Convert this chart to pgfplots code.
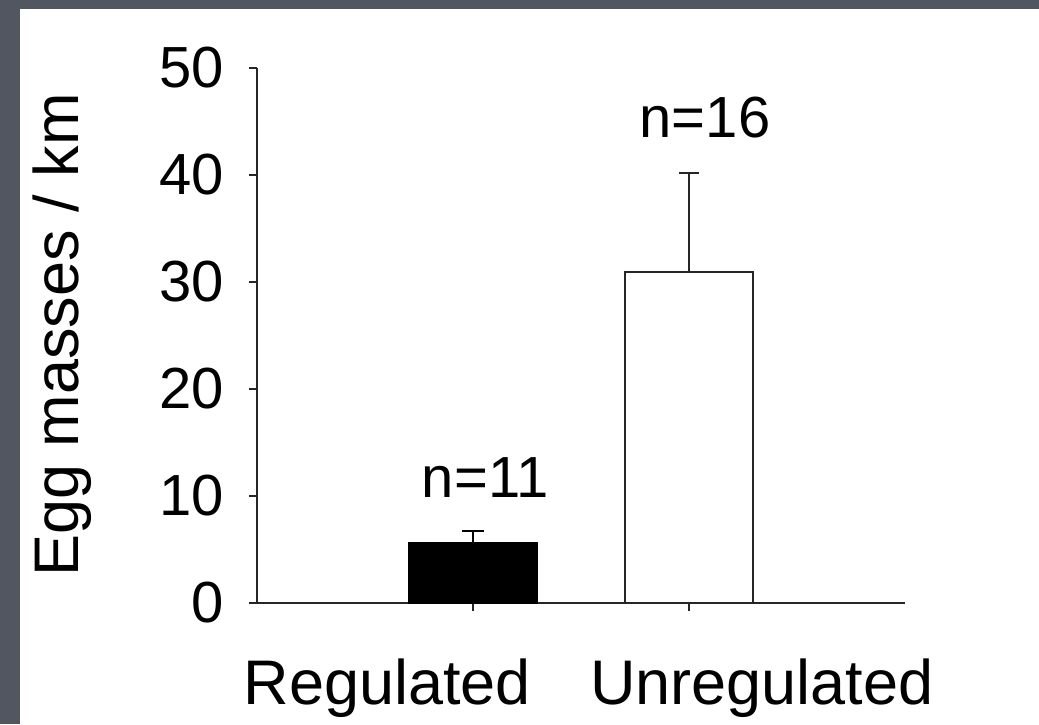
\documentclass[border=0pt]{standalone}
\usepackage{pgfplots}
\pgfplotsset{compat=1.18}
\usepackage{fontspec}
\setmainfont{Liberation Sans}
\definecolor{bordergray}{RGB}{82,86,97}
\begin{document}
\begin{tikzpicture}
\path[use as bounding box] (0,0) rectangle (519.5pt,362pt);
\fill[bordergray] (0,0) rectangle (519.5pt,362pt);
\fill[white] (10pt,0) rectangle (519.5pt,357.5pt);
\begin{axis}[
  at={(128.5pt,60.5pt)}, anchor=south west,
  scale only axis, width=324pt, height=267.5pt,
  xmin=0, xmax=3, ymin=0, ymax=50,
  axis x line=bottom, axis y line=left,
  axis line style={-, line width=1pt, black!85},
  xtick={1,2}, xticklabels={},
  ytick={0,10,20,30,40,50},
  tick align=outside, major tick length=4pt,
  tick style={line width=1pt, black!85},
  ticklabel style={font=\fontsize{29}{34}\selectfont},
  yticklabel style={xshift=-9pt},
  /pgf/number format/assume math mode=true,
  clip=false,
]
\addplot[ybar, bar width=64pt, fill=black, draw=black, line width=1pt,
  error bars/.cd, y dir=plus, y explicit,
  error bar style={line width=1pt, black},
  error mark options={rotate=90, mark size=5.5pt, line width=1pt}]
  coordinates {(1,5.6) +- (0,1.1)};
\addplot[ybar, bar width=64pt, fill=white, draw=black!85, line width=1pt,
  error bars/.cd, y dir=plus, y explicit,
  error bar style={line width=1pt, black!85},
  error mark options={rotate=90, mark size=5pt, line width=1pt}]
  coordinates {(2,30.9) +- (0,9.3)};
\node[anchor=base, font=\fontsize{29}{34}\selectfont] at (axis cs:1.056,9.9) {n=11};
\node[anchor=base, font=\fontsize{29}{34}\selectfont] at (axis cs:2.074,43.55) {n=16};
\node[anchor=base, font=\fontsize{31.5}{36}\selectfont] at (axis cs:0.604,-9.53) {Regulated};
\node[anchor=base, font=\fontsize{31.5}{36}\selectfont] at (axis cs:2.338,-9.53) {Unregulated};
\end{axis}
\node[rotate=90, font=\fontsize{31.5}{36}\selectfont] at (31pt,194.5pt) {Egg masses / km};
\end{tikzpicture}
\end{document}
